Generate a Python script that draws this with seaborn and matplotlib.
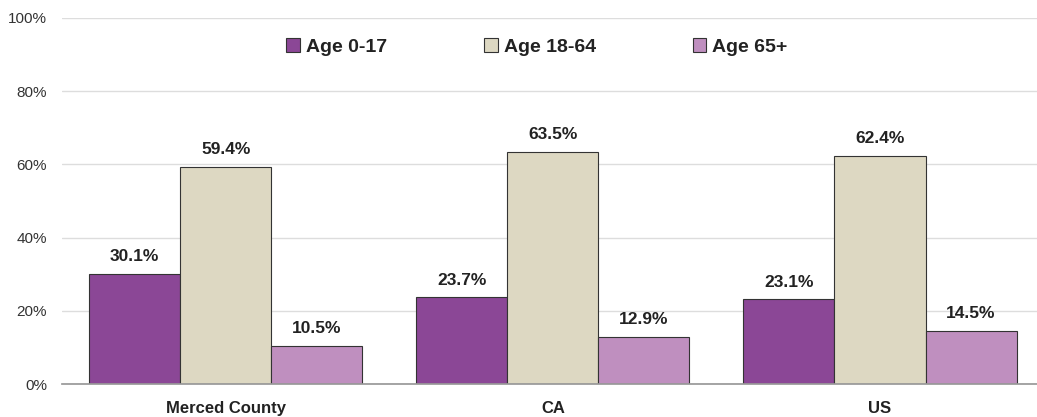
import seaborn as sns
import matplotlib.pyplot as plt
import pandas as pd
from matplotlib.ticker import PercentFormatter
from matplotlib import font_manager

# Data
regions = ["Merced County", "CA", "US"]
age_groups = ["Age 0-17", "Age 18-64", "Age 65+"]
age_0_17 = [30.1, 23.7, 23.1]
age_18_64 = [59.4, 63.5, 62.4]
age_65_plus = [10.5, 12.9, 14.5]
colors = ["#8B4796", "#DDD8C2", "#BF8FBF"]

df = pd.DataFrame({
    "region": regions * 3,
    "group": [g for g in age_groups for _ in regions],
    "value": age_0_17 + age_18_64 + age_65_plus,
})

sns.set_theme(style="white")
names = {f.name for f in font_manager.fontManager.ttflist}
narrow = "Liberation Sans Narrow" if "Liberation Sans Narrow" in names else "Liberation Sans"
plt.rcParams["font.family"] = [narrow, "DejaVu Sans"]

fig = plt.figure(figsize=(10.37, 4.17), dpi=100)
ax = fig.add_axes([0.06, 0.079, 0.94, 0.878])

sns.barplot(data=df, x="region", y="value", hue="group", palette=colors,
            width=0.835, gap=0, edgecolor="#333333", linewidth=0.8, ax=ax,
            saturation=1)

for cont in ax.containers:
    ax.bar_label(cont, labels=[f"{v:.1f}%" for v in cont.datavalues],
                 padding=7, fontsize=12.5, fontweight="bold", color="#222222")

ax.set_ylim(0, 100)
ax.set_yticks(range(0, 101, 20))
ax.yaxis.set_major_formatter(PercentFormatter(decimals=0))
ax.grid(axis="y", color="#DDDDDD", linewidth=1)
ax.set_axisbelow(True)
ax.set_xlim(-0.5, 2.48)
ax.set_xlabel("")
ax.set_ylabel("")
for s in ["top", "right", "left"]:
    ax.spines[s].set_visible(False)
ax.spines["bottom"].set_color("#999999")
ax.tick_params(axis="y", labelsize=11, colors="#333333", length=0, pad=11)
ax.tick_params(axis="x", length=0, pad=12)
for lbl in ax.get_xticklabels():
    lbl.set_fontweight("bold")
    lbl.set_fontsize(12)
    lbl.set_color("#222222")

leg = ax.legend(loc="upper center", bbox_to_anchor=(0.487, 0.993), ncol=3,
                frameon=False, handlelength=0.7, handleheight=0.7,
                handletextpad=0.3, columnspacing=5.0,
                prop={"weight": "bold", "size": 14})
for t in leg.get_texts():
    t.set_color("#222222")

fig.savefig("out.png", dpi=100)
